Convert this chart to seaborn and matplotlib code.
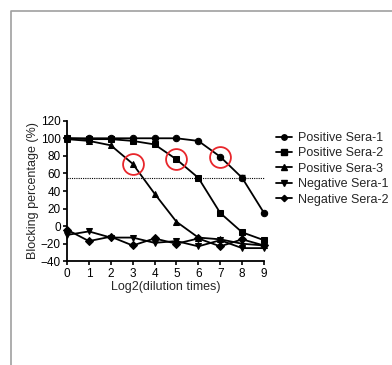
import matplotlib
matplotlib.use("Agg")
import matplotlib.pyplot as plt
import seaborn as sns
import pandas as pd
import numpy as np

sns.set_style("ticks")
plt.rcParams['font.family'] = ['Liberation Sans', 'DejaVu Sans']

dilution = [0, 1, 2, 3, 4, 5, 6, 7, 8, 9]
positive_1 = [100, 100, 100, 100, 100, 100, 97, 79, 55, 15]
positive_1_err = [0, 0, 0, 0, 0, 0, 0, 0, 3, 0]
positive_2 = [100, 99, 99, 97, 93, 76, 55, 15, -7, -16]
positive_3 = [99, 97, 92, 71, 37, 5, -13, -15, -20, -22]
negative_1 = [-10, -6, -13, -13, -19, -17, -23, -16, -25, -25]
negative_2 = [-4, -17, -12, -22, -14, -20, -14, -23, -15, -22]
series_names = ["Positive Sera-1", "Positive Sera-2", "Positive Sera-3",
                "Negative Sera-1", "Negative Sera-2"]
cutoff = 55
highlight_x = [3, 5, 7]
highlight_y = [71, 76, 79]

df = pd.DataFrame({
    "x": dilution * 5,
    "y": positive_1 + positive_2 + positive_3 + negative_1 + negative_2,
    "serum": sum([[n] * len(dilution) for n in series_names], []),
})

fig = plt.figure(figsize=(3.92, 3.65), dpi=100)
ax = fig.add_axes([67/392, 1-261.3/365, (264-67)/392, (261.3-120.7)/365])

markers = {"Positive Sera-1": "o", "Positive Sera-2": "s", "Positive Sera-3": "^",
           "Negative Sera-1": "v", "Negative Sera-2": "D"}
msizes = {"o": 4.6, "s": 4.6, "^": 4.8, "v": 4.8, "D": 3.8}
handles = []
for name in series_names:
    sub = df[df.serum == name]
    m = markers[name]
    sns.lineplot(data=sub, x="x", y="y", ax=ax, color="black", lw=1.3,
                 marker=m, markersize=msizes[m], markeredgecolor="black",
                 clip_on=False, legend=False)
    handles.append(plt.Line2D([], [], color="black", lw=1.3, marker=m,
                              markersize=msizes[m] * 0.85, label=name))

ax.errorbar(dilution, positive_1, yerr=positive_1_err, fmt="none",
            ecolor="black", elinewidth=1, capsize=2.5, clip_on=False)

ax.axhline(cutoff, color="black", lw=0.8, ls=(0, (1, 1)), clip_on=False,
           xmin=0, xmax=1.0)

for hx, hy in zip(highlight_x, highlight_y):
    ax.plot(hx, hy, marker="o", markersize=15, markerfacecolor="none",
            markeredgecolor="#e8262b", markeredgewidth=1.3, clip_on=False)

ax.set_xlim(0, 9)
ax.set_ylim(-40, 120)
ax.set_xticks(range(0, 10))
ax.set_yticks(range(-40, 121, 20))
ax.tick_params(labelsize=8.5, length=3, width=1.2, pad=1.5, colors="black")
sns.despine(ax=ax)
for s in ["left", "bottom"]:
    ax.spines[s].set_linewidth(1.3)
    ax.spines[s].set_color("black")
ax.set_xlabel("Log2(dilution times)", fontsize=9, labelpad=1)
ax.set_ylabel("Blocking percentage (%)", fontsize=9, labelpad=1)

fig.legend(handles=handles, loc="upper left", bbox_to_anchor=(276/392, 1-132/365),
           frameon=False, fontsize=9, handlelength=1.3, handletextpad=0.5,
           labelspacing=0.27, borderaxespad=0, borderpad=0)

frame = plt.Line2D([11/392, 11/392, 1.0], [0, 1-11/365, 1-11/365],
                   transform=fig.transFigure, color="#a0a0a0", lw=1.2)
fig.add_artist(frame)

fig.savefig("out.png", dpi=100, facecolor="white")
